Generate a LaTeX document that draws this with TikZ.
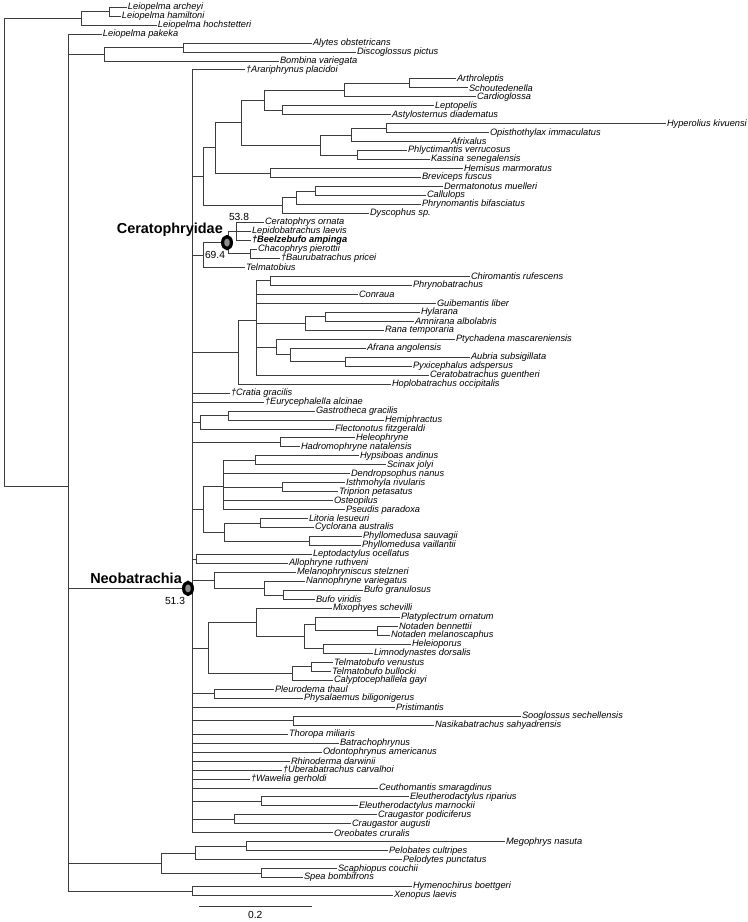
\documentclass[tikz,border=0pt]{standalone}
\usepackage{fontspec}
\setmainfont{Liberation Sans}
\usepackage{xcolor}
\definecolor{tline}{RGB}{60,60,60}
\definecolor{tdot}{RGB}{140,140,140}

\begin{document}
\begin{tikzpicture}[x=1bp, y=-8.975bp,
  branch/.style={draw=tline, line width=0.65bp},
  taxon/.style={anchor=west, inner sep=0.8bp, font=\fontsize{9.3}{10}\selectfont\itshape},
  clade/.style={anchor=east, inner sep=0pt, font=\fontsize{14.5}{16}\selectfont\bfseries},
  age/.style={inner sep=0pt, font=\fontsize{10.3}{11}\selectfont},
  calib/.style={draw=black, fill=tdot, line width=3.2bp}]

\useasboundingbox (0,0.22) rectangle (748,102.95);

%taxa, one row each:
\foreach \nm/\tx/\lab [count=\i] in {
 larc/127/Leiopelma archeyi, lham/121/Leiopelma hamiltoni, lhoc/157/Leiopelma hochstetteri,
 lpak/102/Leiopelma pakeka, alyt/312/Alytes obstetricans, disc/356/Discoglossus pictus,
 bomb/279/Bombina variegata, arar/245/†Arariphrynus placidoi, arth/456/Arthroleptis,
 scho/468/Schoutedenella, card/476/Cardioglossa, lept/434/Leptopelis,
 asty/391/Astylosternus diadematus, hype/666/Hyperolius kivuensi, opis/489/Opisthothylax immaculatus,
 afri/450/Afrixalus, phly/407/Phlyctimantis verrucosus, kass/430/Kassina senegalensis,
 hemi/463/Hemisus marmoratus, brev/421/Breviceps fuscus, derm/443/Dermatonotus muelleri,
 call/426/Callulops, phrm/421/Phrynomantis bifasciatus, dysc/369/Dyscophus sp.,
 ceor/264/Ceratophrys ornata, lepi/251/Lepidobatrachus laevis, beel/251/{\bfseries †Beelzebufo ampinga},
 chac/257/Chacophrys pierottii, baur/280/†Baurubatrachus pricei, telm/245/Telmatobius,
 chir/470/Chiromantis rufescens, phrb/412/Phrynobatrachus, conr/358/Conraua,
 guib/436/Guibemantis liber, hyla/420/Hylarana, amni/414/Amnirana albolabris,
 rana/384/Rana temporaria, ptyc/455/Ptychadena mascareniensis, afra/366/Afrana angolensis,
 aubr/470/Aubria subsigillata, pyxi/412/Pyxicephalus adspersus, cebt/429/Ceratobatrachus guentheri,
 hopl/391/Hoplobatrachus occipitalis, crat/230/†Cratia gracilis, eury/264/†Eurycephalella alcinae,
 gast/315/Gastrotheca gracilis, hemp/384/Hemiphractus, flec/334/Flectonotus fitzgeraldi,
 heleo/355/Heleophryne, hadr/300/Hadromophryne natalensis, hyps/359/Hypsiboas andinus,
 scin/386/Scinax jolyi, dend/350/Dendropsophus nanus, isth/345/Isthmohyla rivularis,
 trip/338/Triprion petasatus, oste/333/Osteopilus, pseu/345/Pseudis paradoxa,
 lito/308/Litoria lesueuri, cycl/314/Cyclorana australis, phsa/362/Phyllomedusa sauvagii,
 phva/361/Phyllomedusa vaillantii, lepd/312/Leptodactylus ocellatus, allo/288/Allophryne ruthveni,
 mela/296/Melanophryniscus stelzneri, nann/305/Nannophryne variegatus, bugr/363/Bufo granulosus,
 buvi/315/Bufo viridis, mixo/332/Mixophyes schevilli, plat/400/Platyplectrum ornatum,
 nobe/398/Notaden bennettii, nome/390/Notaden melanoscaphus, heli/411/Heleioporus,
 limn/373/Limnodynastes dorsalis, tbve/333/Telmatobufo venustus, tbbu/331/Telmatobufo bullocki,
 caly/333/Calyptocephallela gayi, pleu/274/Pleurodema thaul, phys/303/Physalaemus biligonigerus,
 pris/395/Pristimantis, soog/521/Sooglossus sechellensis, nasi/434/Nasikabatrachus sahyadrensis,
 thor/288/Thoropa miliaris, batr/339/Batrachophrynus, odon/322/Odontophrynus americanus,
 rhin/290/Rhinoderma darwinii, uber/282/†Uberabatrachus carvalhoi, wawe/250/†Wawelia gerholdi,
 ceut/378/Ceuthomantis smaragdinus, elri/409/Eleutherodactylus riparius, elma/358/Eleutherodactylus marnockii,
 crpo/377/Craugastor podiciferus, crau/351/Craugastor augusti, oreo/333/Oreobates cruralis,
 mego/505/Megophrys nasuta, pelb/388/Pelobates cultripes, pelo/402/Pelodytes punctatus,
 scap/337/Scaphiopus couchii, spea/303/Spea bombifrons, hyme/412/Hymenochirus boettgeri,
 xeno/393/Xenopus laevis}
  \node[taxon] (\nm) at (\tx,\i) {\lab};

%inner nodes (row = mean of the children):
\foreach \nm/\x/\y in {
 root/4/28.3, nLeio/81/2.25, nArHa/109/1.5, nAnura/68/54.38, nDisc/104/6.25, nAlDi/183/5.5,
 nNeo/192/65.78, nA/203/19.906, nB/215/16.6875, nAfro/241/13.875, nArthrol/264/11.375,
 nArth2/344/10.25, nArth3/409/9.5, nLeAs/282/12.5, nHyper/320/16.375, nHyOpAf/351/15.25,
 nHyOp/386/14.5, nPhKa/357/17.5, nHeBr/270/19.5, nMicro/282/23.125, nDeCaPh/296/22.25,
 nDeCa/315/21.5, nC/203/28.625, nCera/228/27.25, nCera1/236/26, nCera2/250/28.5,
 nR0/238/39.469, nR1/256/35.9375, nChPh/270/31.5, nRana/305/36.25, nHyAm/325/35.5,
 nPty/276/38.875, nAfAuPy/290/39.75, nAuPy/345/40.5, nHemi/200/47.25, nGaHe/228/46.5,
 nHeHa/280/49.5, nH0/203/56.95, nH1/223/54.4, nHySc/255/51.5, nIsTr/282/54.5,
 nH2/224/59.5, nLiCy/260/58.5, nPhyl/309/60.5, nLeAl/196/62.5, nBufo/214/64.875,
 nNaBu/264/65.75, nBuBu/283/66.5, nL3/208/72.406, nL2/256/69.5625, nL1/304/71.125,
 nPlNo/315/69.75, nNot/377/70.5, nHeLi/323/72.5, nCaly/292/75.25, nTelm/311/74.5,
 nPlPh/214/77.5, nSoNa/293/80.5, nEleu/261/89.5, nCrau/234/91.5, nPelob/161/96.375,
 nPelob2/195/95.25, nMePe/246/94.5, nScSp/261/97.5, nPip/192/99.5}
  \coordinate (\nm) at (\x,\y);

%branches:
\foreach \p/\kids in {
 root/{nLeio,nAnura}, nLeio/{nArHa,lhoc.west}, nArHa/{larc.west,lham.west},
 nAnura/{lpak.west,nDisc,nNeo,nPelob,nPip}, nDisc/{nAlDi,bomb.west}, nAlDi/{alyt.west,disc.west},
 nNeo/{arar.west,nA,nC,nR0,crat.west,eury.west,nHemi,nHeHa,nH0,nLeAl,nBufo,nL3,nPlPh,pris.west,
   nSoNa,thor.west,batr.west,odon.west,rhin.west,uber.west,wawe.west,ceut.west,nEleu,nCrau,oreo.west},
 nA/{nB,nMicro}, nB/{nAfro,nHeBr}, nAfro/{nArthrol,nHyper}, nArthrol/{nArth2,nLeAs},
 nArth2/{nArth3,card.west}, nArth3/{arth.west,scho.west}, nLeAs/{lept.west,asty.west},
 nHyper/{nHyOpAf,nPhKa}, nHyOpAf/{nHyOp,afri.west}, nHyOp/{hype.west,opis.west},
 nPhKa/{phly.west,kass.west}, nHeBr/{hemi.west,brev.west}, nMicro/{nDeCaPh,dysc.west},
 nDeCaPh/{nDeCa,phrm.west}, nDeCa/{derm.west,call.west},
 nC/{nCera,telm.west}, nCera/{nCera1,nCera2}, nCera1/{ceor.west,lepi.west,beel.west},
 nCera2/{chac.west,baur.west},
 nR0/{nR1,hopl.west}, nR1/{nChPh,conr.west,guib.west,nRana,nPty,cebt.west},
 nChPh/{chir.west,phrb.west}, nRana/{nHyAm,rana.west}, nHyAm/{hyla.west,amni.west},
 nPty/{ptyc.west,nAfAuPy}, nAfAuPy/{afra.west,nAuPy}, nAuPy/{aubr.west,pyxi.west},
 nHemi/{nGaHe,flec.west}, nGaHe/{gast.west,hemp.west}, nHeHa/{heleo.west,hadr.west},
 nH0/{nH1,nH2}, nH1/{nHySc,dend.west,nIsTr,oste.west,pseu.west}, nHySc/{hyps.west,scin.west},
 nIsTr/{isth.west,trip.west}, nH2/{nLiCy,nPhyl}, nLiCy/{lito.west,cycl.west},
 nPhyl/{phsa.west,phva.west}, nLeAl/{lepd.west,allo.west},
 nBufo/{mela.west,nNaBu}, nNaBu/{nann.west,nBuBu}, nBuBu/{bugr.west,buvi.west},
 nL3/{nL2,nCaly}, nL2/{mixo.west,nL1}, nL1/{nPlNo,nHeLi}, nPlNo/{plat.west,nNot},
 nNot/{nobe.west,nome.west}, nHeLi/{heli.west,limn.west}, nCaly/{nTelm,caly.west},
 nTelm/{tbve.west,tbbu.west}, nPlPh/{pleu.west,phys.west}, nSoNa/{soog.west,nasi.west},
 nEleu/{elri.west,elma.west}, nCrau/{crpo.west,crau.west},
 nPelob/{nPelob2,nScSp}, nPelob2/{nMePe,pelo.west}, nMePe/{mego.west,pelb.west},
 nScSp/{scap.west,spea.west}, nPip/{hyme.west,xeno.west}}
  \foreach \c in \kids \draw[branch] (\p) |- (\c);

%calibrated nodes
\draw[calib] (227,27.25) ellipse[x radius=4.4bp, y radius=6bp];
\node[clade] (ceraLab) at (223,25.85) {Ceratophryidae};
\node[age] (ceraCrown) at (239,24.4) {53.8};
\node[age] (ceraStem) at (215,28.63) {69.4};

\draw[calib] (188,65.78) ellipse[x radius=4.4bp, y radius=6bp];
\node[clade] (neoLab) at (182,64.62) {Neobatrachia};
\node[age] (neoAge) at (175,67.2) {51.3};

%scale bar
\coordinate (bar0) at (199,101.17);
\coordinate (bar1) at (311.5,101.17);
\draw[branch] (bar0) -- (bar1) node[age, midway, below=4.5bp] {0.2};

\end{tikzpicture}
\end{document}
